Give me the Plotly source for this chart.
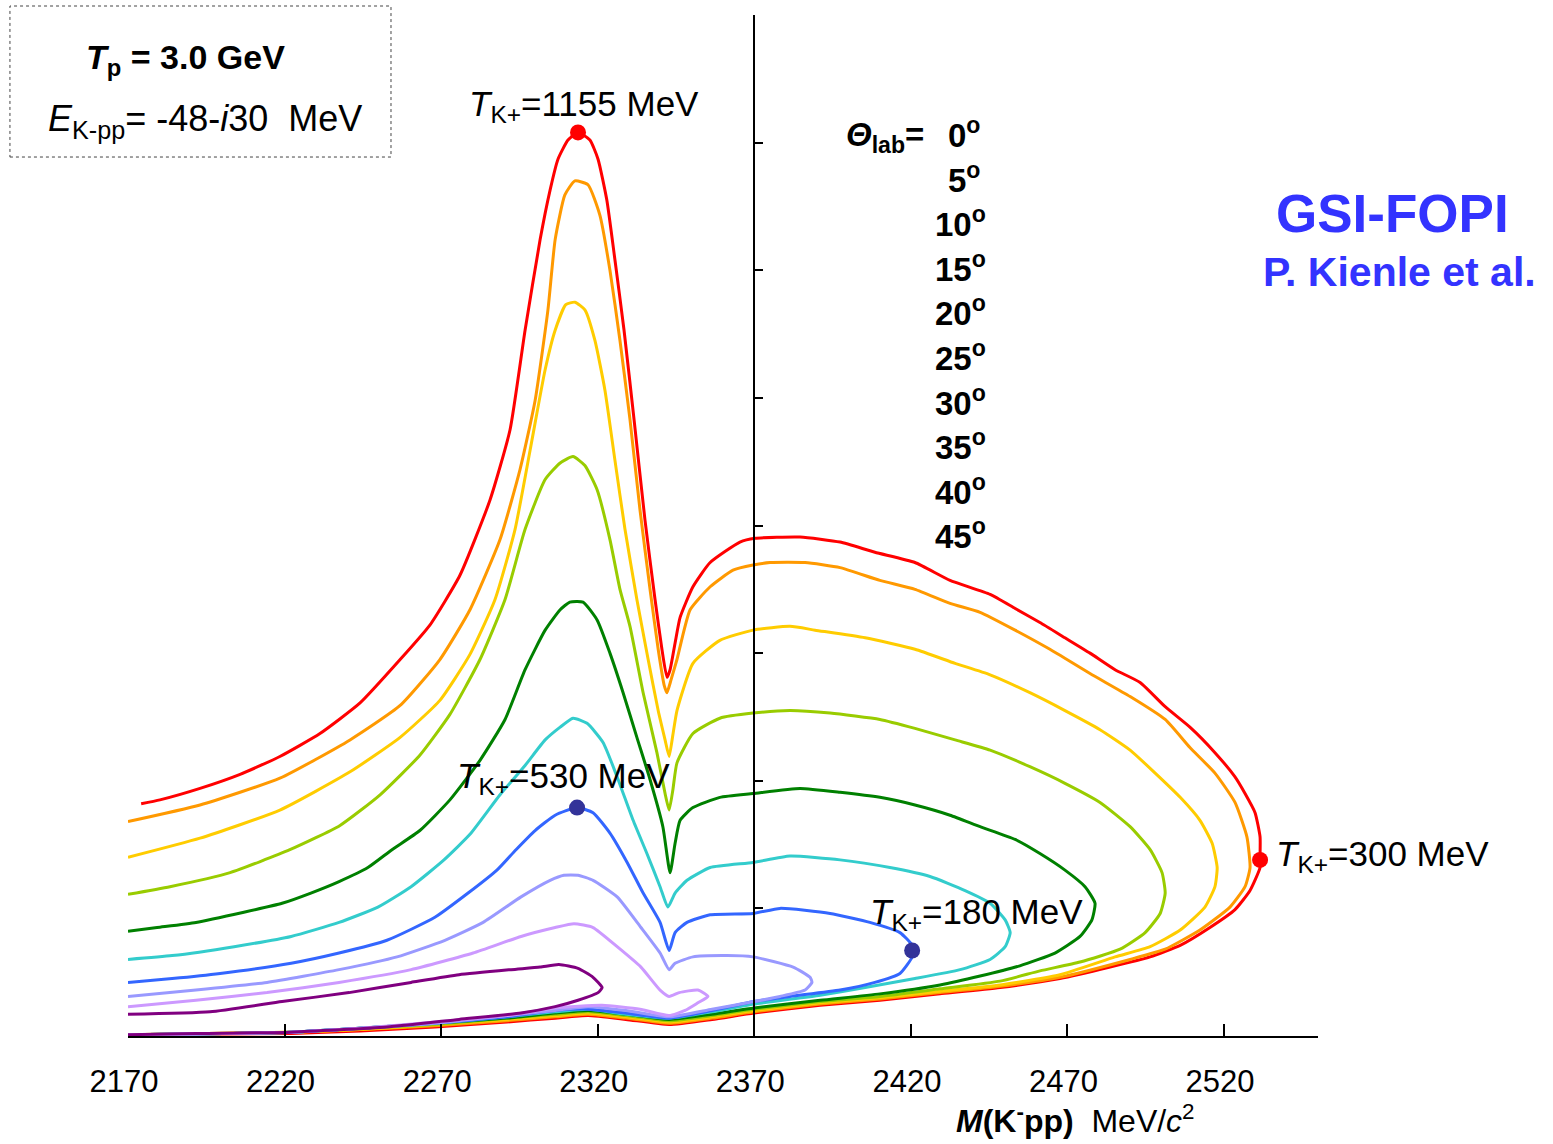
import plotly.graph_objects as go

# Lab angles of the K+ and the colour used for each curve
ANGLES = [0, 5, 10, 15, 20, 25, 30, 35, 40, 45]
COLORS = ["#ff0000", "#ff9900", "#ffcc00", "#99cc00", "#008000",
          "#33cccc", "#3366ff", "#9999ff", "#cc99ff", "#800080"]

# Each curve is a closed kinematic loop: upper branch left -> right, lower branch back to the left
M_0 = [2174.2, 2180.2, 2193.0, 2205.8, 2218.5, 2231.3, 2244.1, 2256.9, 2266.4, 2276.0, 2285.6, 2292.0,
       2296.8, 2301.6, 2304.8, 2307.3, 2310.5, 2313.7, 2317.5, 2320.1, 2322.9, 2325.5, 2328.4, 2331.6,
       2335.1, 2338.3, 2340.5, 2342.1, 2343.1, 2344.7, 2346.3, 2350.4, 2355.9, 2365.4, 2370.2, 2384.6,
       2397.4, 2408.5, 2421.3, 2432.5, 2445.3, 2453.3, 2461.2, 2469.2, 2477.2, 2485.2, 2493.2, 2501.2,
       2509.1, 2517.1, 2523.5, 2526.7, 2529.9, 2531.5, 2531.5, 2531.5,
       2528.3, 2523.5, 2515.5, 2506.0, 2496.4, 2483.6, 2467.6, 2448.5, 2429.3, 2410.1, 2391.0, 2369.9,
       2356.5, 2342.8, 2329.0, 2316.9, 2306.4, 2291.0, 2268.0, 2244.1, 2222.1, 2170.0]
Y_0 = [1.82, 1.85, 1.94, 2.05, 2.19, 2.37, 2.61, 2.95, 3.22, 3.61, 4.20, 4.75,
       5.53, 6.24, 6.63, 6.87, 7.02, 7.08, 7.02, 6.87, 6.55, 6.08, 5.53, 4.83,
       4.04, 3.42, 3.03, 2.81, 2.87, 3.08, 3.28, 3.52, 3.71, 3.87, 3.90, 3.91,
       3.87, 3.79, 3.71, 3.57, 3.46, 3.35, 3.24, 3.12, 3.00, 2.87, 2.77, 2.58,
       2.42, 2.22, 2.03, 1.90, 1.75, 1.56, 1.42, 1.32,
       1.14, 0.99, 0.85, 0.71, 0.62, 0.54, 0.45, 0.38, 0.33, 0.28, 0.24, 0.18,
       0.13, 0.09, 0.13, 0.16, 0.14, 0.11, 0.07, 0.04, 0.02, 0.01]

M_5 = [2170.0, 2193.0, 2218.5, 2240.9, 2256.9, 2269.6, 2279.2, 2288.8, 2295.2, 2300.0, 2304.1, 2306.4,
       2309.5, 2312.7, 2316.9, 2320.7, 2323.9, 2327.1, 2330.3, 2333.5, 2336.7, 2339.3, 2341.2, 2342.1,
       2343.4, 2345.3, 2349.5, 2355.9, 2363.2, 2369.6, 2375.0, 2386.2, 2397.4, 2410.1, 2421.3, 2432.5,
       2442.1, 2453.3, 2464.4, 2477.2, 2490.0, 2501.2, 2509.1, 2517.1, 2523.5, 2527.3, 2528.3,
       2526.7, 2521.9, 2512.3, 2501.2, 2490.0, 2467.6, 2448.5, 2429.3, 2410.1, 2391.0, 2369.9, 2356.5,
       2342.8, 2329.0, 2316.9, 2306.4, 2291.0, 2268.0, 2244.1, 2222.1, 2170.0]
Y_5 = [1.68, 1.81, 2.02, 2.32, 2.59, 2.95, 3.34, 3.89, 4.44, 4.98, 5.69, 6.24,
       6.59, 6.70, 6.67, 6.43, 6.00, 5.45, 4.83, 4.12, 3.50, 3.03, 2.75, 2.69,
       2.79, 2.95, 3.34, 3.52, 3.65, 3.69, 3.71, 3.71, 3.67, 3.57, 3.50, 3.39,
       3.32, 3.18, 3.03, 2.84, 2.66, 2.48, 2.26, 2.06, 1.83, 1.56, 1.32,
       1.17, 1.01, 0.83, 0.68, 0.60, 0.46, 0.39, 0.34, 0.29, 0.25, 0.19, 0.14,
       0.10, 0.14, 0.17, 0.15, 0.12, 0.08, 0.05, 0.03, 0.01]

M_10 = [2170.0, 2193.0, 2218.5, 2240.9, 2256.9, 2269.6, 2279.2, 2287.2, 2293.6, 2298.4, 2303.2, 2306.4,
        2309.8, 2312.7, 2315.9, 2319.1, 2322.3, 2325.5, 2328.7, 2332.5, 2336.1, 2339.3, 2341.5, 2342.8,
        2344.0, 2345.3, 2350.4, 2359.0, 2369.6, 2381.4, 2389.4, 2405.4, 2421.3, 2434.1, 2445.3, 2458.0,
        2469.2, 2480.4, 2490.0, 2498.0, 2506.0, 2512.3, 2516.2, 2517.8,
        2517.1, 2513.9, 2506.0, 2496.4, 2485.2, 2467.6, 2448.5, 2429.3, 2410.1, 2391.0, 2369.9, 2356.5,
        2342.8, 2329.0, 2316.9, 2306.4, 2291.0, 2268.0, 2244.1, 2222.1, 2170.0]
Y_10 = [1.40, 1.55, 1.77, 2.07, 2.34, 2.63, 2.99, 3.42, 3.97, 4.59, 5.22, 5.53,
        5.73, 5.75, 5.69, 5.45, 5.06, 4.51, 3.97, 3.42, 2.95, 2.55, 2.32, 2.19,
        2.36, 2.55, 2.92, 3.10, 3.18, 3.21, 3.18, 3.12, 3.03, 2.92, 2.83, 2.69,
        2.55, 2.40, 2.24, 2.06, 1.87, 1.69, 1.51, 1.32,
        1.17, 1.01, 0.83, 0.70, 0.62, 0.48, 0.40, 0.35, 0.30, 0.26, 0.20, 0.15,
        0.11, 0.15, 0.18, 0.16, 0.13, 0.09, 0.05, 0.03, 0.01]

M_15 = [2170.0, 2183.4, 2202.6, 2221.7, 2237.7, 2250.5, 2263.2, 2272.8, 2282.4, 2290.4, 2296.8, 2303.2,
        2308.0, 2312.1, 2315.9, 2319.8, 2323.9, 2327.1, 2330.3, 2334.5, 2338.9, 2341.5, 2342.8, 2344.0,
        2345.3, 2350.4, 2359.0, 2369.6, 2381.4, 2394.2, 2410.1, 2421.3, 2434.1, 2445.3, 2458.0, 2469.2,
        2480.4, 2490.0, 2496.4, 2500.2, 2501.2,
        2499.6, 2494.8, 2486.8, 2474.0, 2461.2, 2448.5, 2429.3, 2410.1, 2391.0, 2369.9, 2356.5, 2342.8,
        2329.0, 2316.9, 2306.4, 2291.0, 2268.0, 2244.1, 2222.1, 2170.0]
Y_15 = [1.11, 1.17, 1.28, 1.46, 1.65, 1.89, 2.20, 2.52, 2.95, 3.42, 3.97, 4.36,
        4.49, 4.54, 4.47, 4.28, 3.89, 3.50, 3.21, 2.69, 2.22, 1.90, 1.77, 1.93,
        2.14, 2.37, 2.49, 2.53, 2.55, 2.53, 2.48, 2.41, 2.32, 2.24, 2.11, 1.98,
        1.83, 1.64, 1.46, 1.28, 1.12,
        0.96, 0.81, 0.68, 0.58, 0.51, 0.43, 0.37, 0.31, 0.27, 0.21, 0.16, 0.12,
        0.16, 0.19, 0.17, 0.14, 0.09, 0.06, 0.03, 0.01]

M_20 = [2170.0, 2179.3, 2191.7, 2207.0, 2219.2, 2228.4, 2237.4, 2246.6, 2254.3, 2263.2, 2272.8, 2282.4,
        2290.4, 2296.8, 2303.2, 2308.0, 2311.1, 2315.3, 2319.8, 2323.9, 2328.1, 2332.5, 2336.7, 2340.8,
        2343.1, 2344.7, 2346.3, 2350.4, 2359.0, 2369.6, 2384.6, 2397.4, 2410.1, 2421.3, 2432.5, 2442.1,
        2453.3, 2461.2, 2469.2, 2475.6, 2478.8,
        2477.8, 2474.0, 2466.0, 2454.8, 2442.1, 2429.3, 2410.1, 2391.0, 2369.9, 2356.5, 2342.8, 2329.0,
        2316.9, 2306.4, 2291.0, 2268.0, 2244.1, 2222.1, 2170.0]
Y_20 = [0.82, 0.85, 0.89, 0.97, 1.04, 1.12, 1.21, 1.32, 1.46, 1.61, 1.85, 2.16,
        2.48, 2.87, 3.18, 3.34, 3.40, 3.40, 3.26, 3.00, 2.69, 2.34, 2.01, 1.64,
        1.28, 1.51, 1.69, 1.79, 1.87, 1.90, 1.94, 1.91, 1.87, 1.81, 1.73, 1.64,
        1.54, 1.43, 1.30, 1.17, 1.04,
        0.91, 0.78, 0.65, 0.55, 0.47, 0.40, 0.33, 0.28, 0.22, 0.17, 0.13, 0.17,
        0.20, 0.18, 0.14, 0.10, 0.06, 0.03, 0.01]

M_25 = [2170.0, 2184.1, 2203.9, 2222.1, 2237.4, 2249.8, 2260.4, 2270.9, 2279.2, 2288.8, 2296.8, 2303.2,
        2308.0, 2312.1, 2316.6, 2321.7, 2326.2, 2331.3, 2335.7, 2339.9, 2342.4, 2344.7, 2348.5, 2355.9,
        2369.6, 2381.4, 2397.4, 2413.3, 2426.1, 2437.3, 2445.3, 2450.1, 2451.7,
        2450.1, 2445.3, 2435.7, 2421.3, 2405.4, 2391.0, 2369.9, 2356.5, 2342.8, 2329.0, 2316.9, 2306.4,
        2291.0, 2268.0, 2244.1, 2222.1, 2170.0]
Y_25 = [0.60, 0.63, 0.70, 0.78, 0.89, 1.01, 1.17, 1.38, 1.58, 1.89, 2.12, 2.32,
        2.42, 2.49, 2.45, 2.30, 2.03, 1.69, 1.43, 1.17, 1.01, 1.12, 1.22, 1.32,
        1.36, 1.41, 1.38, 1.32, 1.25, 1.14, 1.04, 0.91, 0.81,
        0.70, 0.60, 0.52, 0.45, 0.38, 0.32, 0.25, 0.19, 0.14, 0.17, 0.21, 0.19,
        0.15, 0.10, 0.06, 0.03, 0.01]

M_30 = [2170.0, 2184.1, 2199.4, 2222.1, 2237.4, 2252.7, 2268.0, 2278.6, 2287.8, 2293.9, 2300.0, 2306.4,
        2313.4, 2318.5, 2323.9, 2329.4, 2334.5, 2339.9, 2342.8, 2344.7, 2348.5, 2355.9, 2369.6, 2378.2,
        2394.2, 2406.9, 2416.5, 2420.4, 2420.4,
        2416.5, 2408.5, 2397.4, 2381.4, 2369.9, 2356.5, 2342.8, 2329.0, 2316.9, 2306.4, 2291.0, 2268.0,
        2244.1, 2222.1, 2170.0]
Y_30 = [0.42, 0.45, 0.49, 0.57, 0.65, 0.75, 0.93, 1.12, 1.30, 1.46, 1.61, 1.73,
        1.79, 1.75, 1.59, 1.36, 1.12, 0.89, 0.67, 0.81, 0.89, 0.95, 0.96, 1.00,
        0.96, 0.89, 0.81, 0.71, 0.62,
        0.49, 0.42, 0.36, 0.31, 0.27, 0.20, 0.14, 0.18, 0.21, 0.20, 0.15, 0.10,
        0.06, 0.03, 0.01]

M_35 = [2170.0, 2191.7, 2214.4, 2237.4, 2255.9, 2271.2, 2283.4, 2295.5, 2304.8, 2309.2, 2313.7, 2318.5,
        2326.2, 2333.8, 2339.9, 2342.8, 2344.7, 2350.4, 2361.3, 2369.6, 2382.4, 2387.8, 2388.4,
        2386.2, 2378.2, 2369.9, 2356.5, 2342.8, 2329.0, 2316.9, 2306.4, 2291.0, 2268.0, 2244.1, 2222.1,
        2170.0]
Y_35 = [0.31, 0.36, 0.42, 0.52, 0.62, 0.75, 0.89, 1.09, 1.22, 1.26, 1.26, 1.22,
        1.09, 0.85, 0.65, 0.52, 0.57, 0.62, 0.63, 0.62, 0.54, 0.46, 0.42,
        0.36, 0.31, 0.27, 0.21, 0.15, 0.20, 0.23, 0.20, 0.16, 0.10, 0.06, 0.03,
        0.01]

M_40 = [2170.0, 2191.7, 2214.4, 2237.4, 2260.4, 2280.2, 2295.5, 2306.4, 2312.4, 2318.5, 2326.2, 2333.8,
        2339.9, 2342.8, 2346.0, 2352.0, 2355.2,
        2352.0, 2347.9, 2342.8, 2333.5, 2321.4, 2306.4, 2291.0, 2268.0, 2244.1, 2222.1, 2170.0]
Y_40 = [0.23, 0.28, 0.34, 0.42, 0.52, 0.65, 0.78, 0.85, 0.88, 0.85, 0.70, 0.54,
        0.36, 0.31, 0.34, 0.36, 0.31,
        0.26, 0.20, 0.16, 0.21, 0.24, 0.22, 0.16, 0.11, 0.06, 0.03, 0.01]

M_45 = [2170.0, 2196.2, 2219.2, 2240.6, 2260.4, 2275.7, 2292.3, 2301.6, 2307.6, 2313.7, 2318.5, 2321.4,
        2320.1, 2313.7, 2306.4, 2295.5, 2275.7, 2252.7, 2222.1, 2191.7, 2170.0]
Y_45 = [0.17, 0.19, 0.27, 0.34, 0.42, 0.48, 0.52, 0.54, 0.56, 0.53, 0.46, 0.38,
        0.34, 0.28, 0.23, 0.18, 0.13, 0.07, 0.03, 0.02, 0.01]

CURVES_M = [M_0, M_5, M_10, M_15, M_20, M_25, M_30, M_35, M_40, M_45]
CURVES_Y = [Y_0, Y_5, Y_10, Y_15, Y_20, Y_25, Y_30, Y_35, Y_40, Y_45]

# Marked kaon kinetic energies (MeV) and where they sit on the curves
T_KAON = [1155, 300, 530, 180]
T_M = [2313.7, 2531.5, 2313.4, 2420.4]
T_Y = [7.08, 1.38, 1.79, 0.67]
T_COLOR = ["#ff0000", "#ff0000", "#333399", "#333399"]

X_TICKS = [2170, 2220, 2270, 2320, 2370, 2420, 2470, 2520]

FONT = "Liberation Sans, Arial, Helvetica, sans-serif"

fig = go.Figure()

for ang, col, mm, yy in zip(ANGLES, COLORS, CURVES_M, CURVES_Y):
    fig.add_trace(go.Scatter(x=mm, y=yy, mode="lines", name=f"{ang}°",
                             line=dict(color=col, width=3, shape="spline", smoothing=0.5),
                             showlegend=False, hoverinfo="skip"))

fig.add_trace(go.Scatter(x=T_M, y=T_Y, mode="markers", showlegend=False,
                         marker=dict(size=16, color=T_COLOR), hoverinfo="skip"))

# Labels for the marked kaon energies: (x shift, y shift, anchor)
label_pos = [(6, 26, "center"), (14, 4, "left"), (-14, 30, "center"), (-44, 36, "left")]
for t, m, y, (dx, dy, anc) in zip(T_KAON, T_M, T_Y, label_pos):
    fig.add_annotation(x=m, y=y, xref="x", yref="y", showarrow=False,
                       text=f"<i>T</i><sub>K+</sub>={t} MeV",
                       xanchor=anc, yanchor="middle", xshift=dx, yshift=dy,
                       font=dict(family=FONT, size=35, color="black"))

# Column of lab-angle captions
ROW_TOP = 0.8844
ROW_STEP = 0.04368
fig.add_annotation(x=0.6706, y=ROW_TOP, xref="paper", yref="paper", showarrow=False,
                   text="<b><i>Θ</i><sub>lab</sub>=</b>", xanchor="right", yanchor="middle",
                   yshift=-4, font=dict(family=FONT, size=33, color="black"))
for i, ang in enumerate(ANGLES):
    right = 0.7176 if ang < 10 else 0.7227
    fig.add_annotation(x=right, y=ROW_TOP - i * ROW_STEP, xref="paper", yref="paper",
                       showarrow=False, text=f"<b>{ang}<sup>o</sup></b>",
                       xanchor="right", yanchor="middle",
                       font=dict(family=FONT, size=33, color="black"))

# Group / author caption
fig.add_annotation(x=1.0622, y=0.8051, xref="paper", yref="paper", showarrow=False,
                   text="<b>GSI-FOPI</b>", xanchor="center", yanchor="middle",
                   font=dict(family=FONT, size=53, color="#3333ff"))
fig.add_annotation(x=1.0689, y=0.7483, xref="paper", yref="paper", showarrow=False,
                   text="<b>P. Kienle et al.</b>", xanchor="center", yanchor="middle",
                   font=dict(family=FONT, size=41, color="#3333ff"))

# Beam energy / binding energy box
fig.add_shape(type="rect", xref="paper", yref="paper",
              x0=-0.0992, x1=0.2210, y0=0.8609, y1=1.0088,
              line=dict(color="#444444", width=1, dash="dot"), fillcolor="rgba(0,0,0,0)")
fig.add_annotation(x=0.0487, y=0.9608, xref="paper", yref="paper", showarrow=False,
                   text="<b><i>T</i><sub>p</sub> = 3.0 GeV</b>", xanchor="center", yanchor="middle",
                   yshift=-4, font=dict(family=FONT, size=34, color="black"))
fig.add_annotation(x=0.0647, y=0.9045, xref="paper", yref="paper", showarrow=False,
                   text="<i>E</i><sub>K-pp</sub>= -48-<i>i</i>30  MeV", xanchor="center",
                   yanchor="middle", yshift=-8, font=dict(family=FONT, size=36, color="black"))

# Axis title
fig.add_annotation(x=0.7958, y=-0.0842, xref="paper", yref="paper", showarrow=False,
                   text="<b><i>M</i>(K<sup>-</sup>pp)</b>  MeV/<i>c</i><sup>2</sup>",
                   xanchor="center", yanchor="middle", yshift=3,
                   font=dict(family=FONT, size=32, color="black"))

fig.update_layout(
    width=1553, height=1144,
    margin=dict(l=128, r=235, t=15, b=108),
    paper_bgcolor="white", plot_bgcolor="white",
    font=dict(family=FONT, color="black"),
    xaxis=dict(range=[2170, 2550], tickvals=X_TICKS, ticktext=[str(v) for v in X_TICKS],
               showgrid=False, zeroline=False, showline=True, linecolor="black", linewidth=2,
               ticks="inside", ticklen=12, tickwidth=1.5, tickcolor="black",
               tickfont=dict(family=FONT, size=31, color="black"),
               ticklabelstandoff=17, ticklabelshift=-4),
    yaxis=dict(range=[0, 8], dtick=1, showticklabels=False, showgrid=False, zeroline=False,
               showline=True, linecolor="black", linewidth=2, ticks="inside", ticklen=8,
               tickwidth=1.5, tickcolor="black", anchor="free", position=(2370 - 2170) / (2550 - 2170)),
)

fig.write_html("out.html")
